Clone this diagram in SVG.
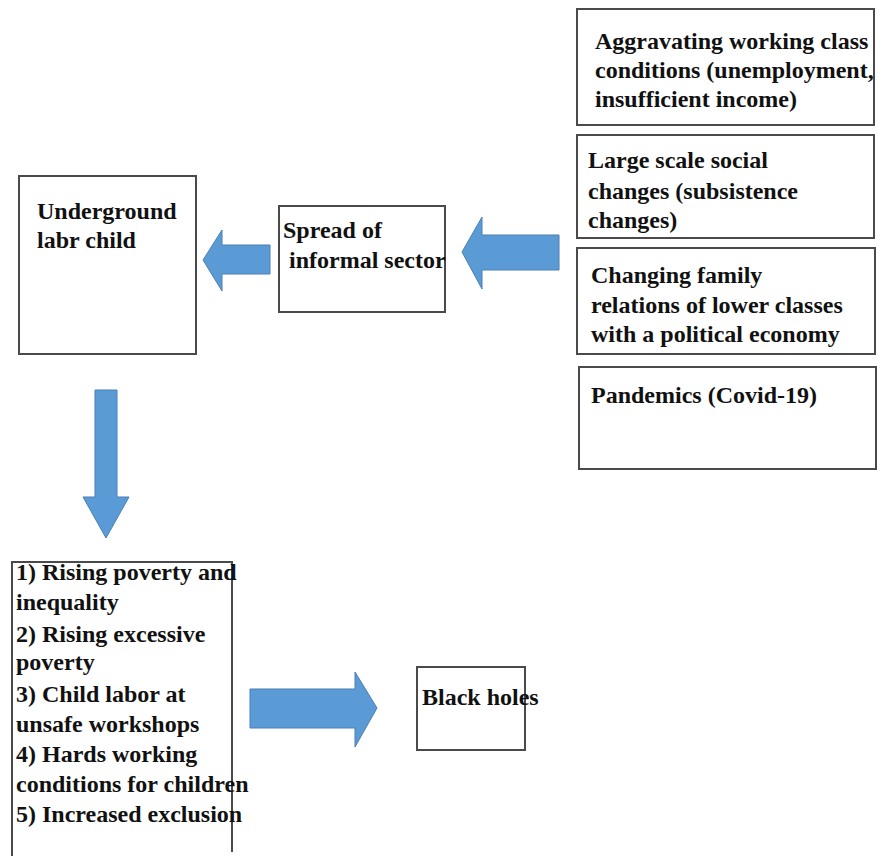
<svg xmlns="http://www.w3.org/2000/svg" width="883" height="856" viewBox="0 0 883 856">
<style>
.box{fill:#fff;stroke:#4a4a4a;stroke-width:2}
.arrow{fill:#5b9bd5;stroke:#4a7fb5;stroke-width:1}
.t{font-family:'Liberation Serif','Times New Roman','DejaVu Serif',serif;font-weight:bold;font-size:24px;fill:#111}
</style>
<rect width="883" height="856" fill="#fff"/>
<g id="connectors">
<polygon class="arrow" points="270,245 222,245 222,230 203,260 222,291 222,274 270,274"/>
<polygon class="arrow" points="559,235 482,235 482,217 462,252 482,289 482,270 559,270"/>
<polygon class="arrow" points="95,390 117,390 117,497 129,497 106,538 83,497 95,497"/>
<polygon class="arrow" points="250,689 355,689 355,672 377,708 355,747 355,728 250,728"/>
</g>
<g class="t" font-family="Liberation Serif, Times New Roman, serif">
<g id="node-aggravating">
<rect class="box" x="577" y="9" width="297" height="116"/>
<text x="595" y="49">Aggravating working class</text>
<text x="595" y="78">conditions (unemployment,</text>
<text x="595" y="107">insufficient income)</text>
</g>
<g id="node-largescale">
<rect class="box" x="577" y="135" width="297" height="103"/>
<text x="588" y="168">Large scale social</text>
<text x="588" y="199">changes (subsistence</text>
<text x="588" y="228">changes)</text>
</g>
<g id="node-family">
<rect class="box" x="577" y="248" width="298" height="106"/>
<text x="591" y="283">Changing family</text>
<text x="591" y="313">relations of lower classes</text>
<text x="591" y="342">with a political economy</text>
</g>
<g id="node-pandemics">
<rect class="box" x="579" y="367" width="297" height="102"/>
<text x="591" y="403">Pandemics (Covid-19)</text>
</g>
<g id="node-spread">
<rect class="box" x="279" y="206" width="166" height="106"/>
<text x="283" y="238">Spread of</text>
<text x="289" y="268">informal sector</text>
</g>
<g id="node-underground">
<rect class="box" x="19" y="176" width="177" height="178"/>
<text x="37" y="219">Underground</text>
<text x="37" y="248">labr child</text>
</g>
<g id="node-list">
<path d="M12,856 V562 H232 V852" fill="#fff" stroke="#4a4a4a" stroke-width="2"/>
<text x="16" y="580">1) Rising poverty and</text>
<text x="16" y="610">inequality</text>
<text x="16" y="642">2) Rising excessive</text>
<text x="16" y="670">poverty</text>
<text x="16" y="702">3) Child labor at</text>
<text x="16" y="732">unsafe workshops</text>
<text x="16" y="762">4) Hards working</text>
<text x="16" y="792">conditions for children</text>
<text x="16" y="822">5) Increased exclusion</text>
</g>
<g id="node-blackholes">
<rect class="box" x="417" y="667" width="108" height="83"/>
<text x="422" y="705">Black holes</text>
</g>
</g>
</svg>
